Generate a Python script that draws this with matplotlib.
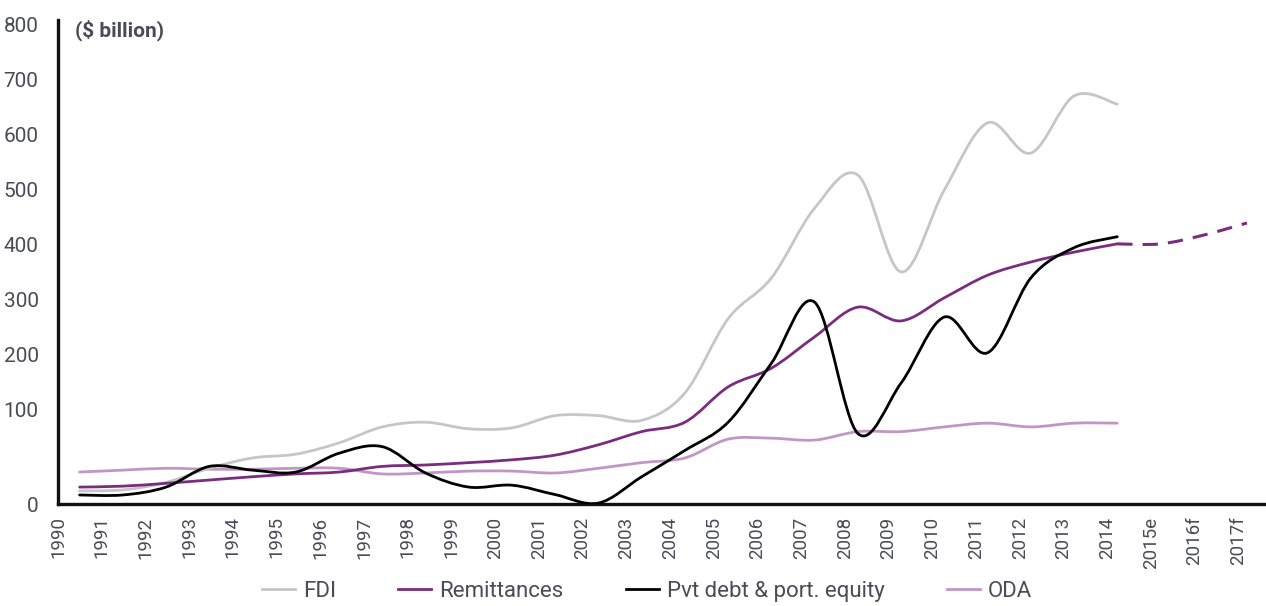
import numpy as np
import matplotlib
matplotlib.use("Agg")
import matplotlib.pyplot as plt
from matplotlib.path import Path
from matplotlib.patches import PathPatch
from matplotlib.lines import Line2D
from matplotlib import font_manager as fm

# ---------------- data ----------------
years = ["1990", "1991", "1992", "1993", "1994", "1995", "1996", "1997", "1998",
         "1999", "2000", "2001", "2002", "2003", "2004", "2005", "2006", "2007",
         "2008", "2009", "2010", "2011", "2012", "2013", "2014", "2015e", "2016f", "2017f"]

fdi = [14, 15, 23, 38, 49, 53, 65, 82, 87, 80, 81, 94, 94, 89, 131, 266, 340, 467,
       527, 351, 500, 622, 567, 671, 656]
remittances = [18, 19, 22, 25.5, 29, 32, 34, 40, 41.5, 44, 47, 52, 63, 77, 87, 142,
               176, 233, 287, 262, 304, 345, 369, 387, 402]
remit_forecast = [402, 402, 418, 440]          # 2014, 2015e, 2016f, 2017f
pvt_debt = [9.6, 9.6, 18, 40, 36, 34, 54, 61, 33, 18, 20, 10, 1, 29, 57, 87, 185,
            296, 75, 149, 269, 204, 340, 395, 415]
oda = [34, 36, 38, 37, 37, 38, 38, 32, 33, 35, 35, 33, 38, 44, 49, 69, 70, 68, 77,
       77, 82, 86, 82, 86, 86]

y_ticks = [0, 100, 200, 300, 400, 500, 600, 700, 800]

# ---------------- fonts ----------------
def pick_font(cands):
    for c in cands:
        try:
            fm.findfont(c, fallback_to_default=False)
            return c
        except Exception:
            pass
    return "DejaVu Sans"

FONT = pick_font(["Liberation Sans Narrow", "Roboto", "Liberation Sans"])
plt.rcParams["font.family"] = [FONT, "DejaVu Sans"]

TXT = "#4a4b57"

# piecewise y scale: 0-100 stretched
K = 94.0 / 55.0
def fwd(v):
    v = np.asarray(v, dtype=float)
    return np.where(v <= 100, v * K, 100 * K + (v - 100))
def inv(u):
    u = np.asarray(u, dtype=float)
    return np.where(u <= 100 * K, u / K, u - 100 * K + 100)

fig = plt.figure(figsize=(12.66, 6.06), dpi=100)
ax = fig.add_axes([58 / 1266, 102 / 606, 1 - 58 / 1266, 484 / 606])
ax.set_yscale("function", functions=(fwd, inv))
ax.set_xlim(-0.46, 27.44)
ax.set_ylim(0, 809)


def smooth_path(xs, ys):
    """Excel-style smoothed line as cubic Bezier (control points in scaled space)."""
    xs = np.asarray(xs, float)
    us = fwd(ys)
    n = len(xs)
    verts = [(xs[0], us[0])]
    codes = [Path.MOVETO]
    for i in range(n - 1):
        p0 = (xs[max(i - 1, 0)], us[max(i - 1, 0)])
        p1 = (xs[i], us[i])
        p2 = (xs[i + 1], us[i + 1])
        p3 = (xs[min(i + 2, n - 1)], us[min(i + 2, n - 1)])
        c1 = (p1[0] + (p2[0] - p0[0]) / 6, p1[1] + (p2[1] - p0[1]) / 6)
        c2 = (p2[0] - (p3[0] - p1[0]) / 6, p2[1] - (p3[1] - p1[1]) / 6)
        verts += [c1, c2, p2]
        codes += [Path.CURVE4] * 3
    verts = np.array(verts)
    verts[:, 1] = inv(verts[:, 1])
    return Path(verts, codes)


series = [
    ("FDI", fdi, "#c6c6c6"),
    ("Remittances", remittances, "#7b2c7f"),
    ("Pvt debt & port. equity", pvt_debt, "#000000"),
    ("ODA", oda, "#c196c5"),
]
draw_order = ["ODA", "FDI", "Remittances", "Pvt debt & port. equity"]
LW = 2.0
for name in draw_order:
    for lab, vals, col in series:
        if lab == name:
            xs = np.arange(len(vals))
            ax.add_patch(PathPatch(smooth_path(xs, vals), fill=False, edgecolor=col,
                                   lw=LW, capstyle="round", joinstyle="round", zorder=3))

xs_f = np.arange(len(remittances) - 1, len(remittances) - 1 + len(remit_forecast))
ax.add_patch(PathPatch(smooth_path(xs_f, remit_forecast), fill=False, edgecolor="#7b2c7f",
                       lw=2.2, linestyle=(0, (5, 3.3)), zorder=3))

# axes styling
for s in ["top", "right"]:
    ax.spines[s].set_visible(False)
for s in ["left", "bottom"]:
    ax.spines[s].set_linewidth(2.4)
    ax.spines[s].set_color("#111111")

ax.set_yticks(y_ticks)
ax.set_yticklabels([str(t) for t in y_ticks])
ax.yaxis.set_minor_locator(matplotlib.ticker.NullLocator())
ax.tick_params(axis="y", length=0, pad=14, labelsize=15, labelcolor=TXT)

ax.set_xticks(np.linspace(-0.5, 26.8, len(years)))
ax.set_xticklabels(years, rotation=90, ha="center", va="top")
ax.tick_params(axis="x", length=0, pad=9, labelsize=13.5, labelcolor=TXT)

ax.text(0.014, 0.979, "($ billion)", transform=ax.transAxes, ha="left", va="center",
        fontsize=15, fontweight="bold", color=TXT)

handles = [Line2D([], [], color=c, lw=LW) for _, _, c in series]
labels = [l for l, _, _ in series]
fig.legend(handles, labels, loc="center", bbox_to_anchor=(0.511, 0.024), ncol=4,
           frameon=False, fontsize=16, handlelength=1.5, handletextpad=0.35,
           columnspacing=2.8, labelcolor=TXT)

fig.savefig("out.png", dpi=100)
